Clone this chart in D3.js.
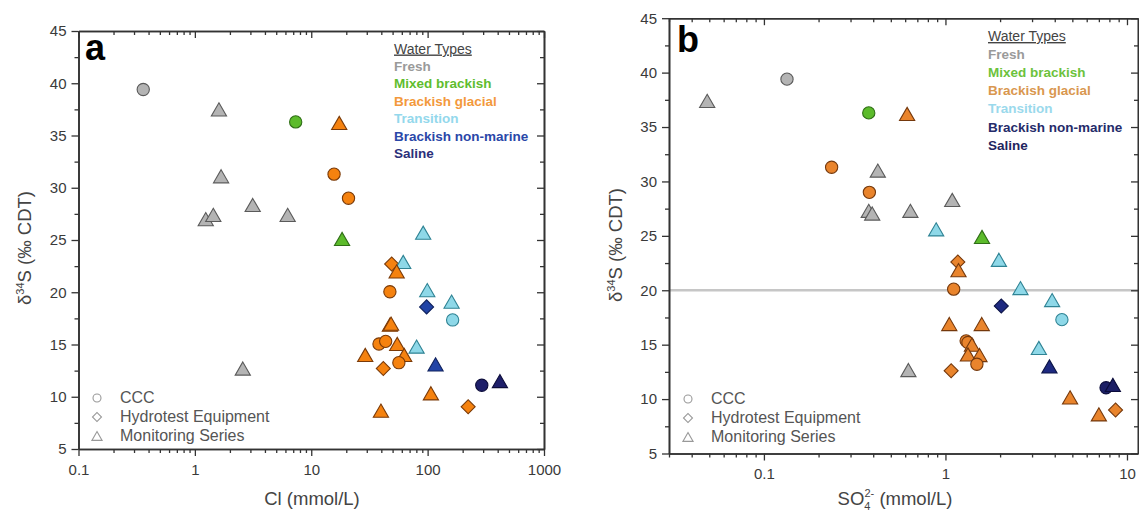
<!DOCTYPE html>
<html><head><meta charset="utf-8">
<script src="https://cdn.jsdelivr.net/npm/d3@7"></script>
<style>
body{margin:0;background:#fff;}
svg{display:block;font-family:"Liberation Sans",Arial,sans-serif;}
</style></head>
<body><svg id="chart" width="1139" height="511"></svg>
<script>
// ---------- data ----------
const waterTypes = ["Fresh","Mixed brackish","Brackish glacial","Transition","Brackish non-marine","Saline"];
const sources = ["CCC","Hydrotest Equipment","Monitoring Series"];
const yTicks = [5,10,15,20,25,30,35,40,45];
const aXTicks = [0.1,1,10,100,1000];
const bXTicks = [0.1,1,10];

// Panel a: Cl (mmol/L) vs d34S
const aCl   = [0.36,1.61,7.35,17.4,15.7,1.68,20.9,1.24,1.44,3.14,6.27,18.4,2.58,91.6,49.1,61.7,54.2,47.4,99.3,98,160.7,164,47.4,48.5,38.2,43.6,54.8,80.4,62.9,29.1,56.6,41.6,117,292,418,106.7,223,39.7];
const aD34S = [39.4,37.5,36.3,36.2,31.3,31.1,29.0,27.0,27.4,28.35,27.4,25.1,12.7,25.7,22.7,22.9,22.0,20.05,20.2,18.6,19.1,17.35,16.9,17.0,15.05,15.3,15.05,14.8,14.0,14.0,13.26,12.7,13.1,11.1,11.5,10.33,9.05,8.67];
const aType = [0,0,1,2,2,0,2,0,0,0,0,1,0,3,2,3,2,2,3,4,3,3,2,2,2,2,2,3,2,2,2,2,4,5,5,2,2,2];
const aSrc  = [0,2,0,2,0,2,0,2,2,2,2,2,2,2,1,2,2,0,2,1,2,0,2,2,0,0,2,2,2,2,0,1,2,0,2,2,1,2];

// Panel b: SO4 (mmol/L) vs d34S
const bSO4  = [0.0487,0.134,0.378,0.236,0.424,0.381,0.378,0.395,0.615,0.641,1.09,0.889,1.59,1.97,1.17,1.18,1.11,2.59,3.87,2.03,4.38,1.05,1.585,1.30,1.33,1.40,1.33,1.54,1.49,0.625,1.075,3.27,3.74,7.67,8.36,4.86,7.0,8.65];
const bD34S = [37.4,39.4,36.3,31.3,31.0,29.0,27.3,27.05,36.2,27.3,28.3,25.6,24.9,22.8,22.6,21.85,20.1,20.2,19.1,18.55,17.3,16.9,16.9,15.35,15.2,15.0,14.1,14.05,13.2,12.67,12.6,14.7,13.0,11.04,11.3,10.16,8.6,9.0];
const bType = [0,0,1,2,0,2,0,0,2,0,0,3,1,3,2,2,2,3,3,4,3,2,2,2,2,2,2,2,2,0,2,3,4,5,5,2,2,2];
const bSrc  = [2,0,0,0,2,0,2,2,2,2,2,2,2,2,1,2,0,2,2,1,0,2,2,0,0,2,2,2,0,2,1,2,2,0,2,2,2,1];

// ---------- styles ----------
const fillA = ["#b4b4b4","#5cbb2b","#f5820f","#8ed8e8","#2244a6","#1e1f6a"];
const strokeA = ["#5a5a5a","#2f6e16","#7a3a08","#2f8394","#10225e","#0c0c3a"];
const fillB = ["#b4b4b4","#5cbb2b","#e9842c","#8ed8e8","#1e2a80","#1c1f66"];
const strokeB = ["#5a5a5a","#2f6e16","#74380c","#2f8394","#0c1446","#0a0b3a"];
const legA = ["#9a9a9a","#5fbd2e","#f3993c","#93d8ec","#2a47a8","#2b307a"];
const legB = ["#9a9a9a","#6cc23c","#d9974f","#9ad9ec","#252b6a","#1f2560"];

// equilateral triangle centred on its bounding box
const boxTriangle = {
  draw(ctx,size){
    const s = Math.sqrt(4*size/Math.sqrt(3)), h = s*Math.sqrt(3)/2;
    ctx.moveTo(0,-h/2); ctx.lineTo(s/2,h/2); ctx.lineTo(-s/2,h/2); ctx.closePath();
  }
};

const svg = d3.select("#chart");
const shapeGen = [
  d3.symbol().type(d3.symbolCircle).size(118),
  d3.symbol().type(d3.symbolSquare).size(98),
  d3.symbol().type(boxTriangle).size(100)
];
const shapeRot = [0,45,0];

function logMinors(domain){
  const out=[];
  for(let e=Math.floor(Math.log10(domain[0]));e<=Math.ceil(Math.log10(domain[1]));e++){
    for(let m=2;m<=9;m++){const v=m*Math.pow(10,e); if(v>=domain[0]*0.999 && v<=domain[1]*1.001) out.push(v);}
  }
  return out;
}

function panel(cfg){
  const g = svg.append("g");
  const x = d3.scaleLog().domain(cfg.xDomain).range([cfg.left,cfg.right]);
  const y = d3.scaleLinear().domain([5,45]).range([cfg.bottom,cfg.top]);
  const yMinor = d3.range(7.5,45,5);
  const xMinor = logMinors(cfg.xDomain);
  const fmt = d => String(d);

  if(cfg.refLine!==undefined){
    g.append("line").attr("x1",cfg.left).attr("x2",cfg.right)
      .attr("y1",y(cfg.refLine)).attr("y2",y(cfg.refLine))
      .attr("stroke","#c6c6c6").attr("stroke-width",2.5);
  }

  function styleAxis(sel){
    sel.selectAll("path").attr("stroke","#333").attr("stroke-width",1.6);
    sel.selectAll("line").attr("stroke","#333").attr("stroke-width",1.3);
    sel.selectAll("text").attr("fill","#3a3a3a").style("font-size","15px").style("font-family","'Liberation Sans',Arial,sans-serif");
  }
  g.append("g").attr("transform",`translate(0,${cfg.bottom})`)
    .call(d3.axisBottom(x).tickValues(cfg.xTicks).tickFormat(fmt).tickSize(7).tickSizeOuter(0).tickPadding(8)).call(styleAxis);
  g.append("g").attr("transform",`translate(0,${cfg.bottom})`)
    .call(d3.axisBottom(x).tickValues(xMinor).tickFormat("").tickSize(4).tickSizeOuter(0)).call(styleAxis);
  g.append("g").attr("transform",`translate(0,${cfg.top})`)
    .call(d3.axisTop(x).tickValues(cfg.xTicks).tickFormat("").tickSize(-7).tickSizeOuter(0)).call(styleAxis);
  g.append("g").attr("transform",`translate(0,${cfg.top})`)
    .call(d3.axisTop(x).tickValues(xMinor).tickFormat("").tickSize(-4).tickSizeOuter(0)).call(styleAxis);
  g.append("g").attr("transform",`translate(${cfg.left},0)`)
    .call(d3.axisLeft(y).tickValues(yTicks).tickFormat(fmt).tickSize(7).tickSizeOuter(0).tickPadding(5)).call(styleAxis);
  g.append("g").attr("transform",`translate(${cfg.left},0)`)
    .call(d3.axisLeft(y).tickValues(yMinor).tickFormat("").tickSize(4).tickSizeOuter(0)).call(styleAxis);
  g.append("g").attr("transform",`translate(${cfg.right},0)`)
    .call(d3.axisRight(y).tickValues(yTicks).tickFormat("").tickSize(-7).tickSizeOuter(0)).call(styleAxis);
  g.append("g").attr("transform",`translate(${cfg.right},0)`)
    .call(d3.axisRight(y).tickValues(yMinor).tickFormat("").tickSize(-4).tickSizeOuter(0)).call(styleAxis);

  const data = cfg.xs.map((v,i)=>({x:v,y:cfg.ys[i],t:cfg.types[i],s:cfg.srcs[i]}));
  g.append("g").selectAll("path").data(data).join("path")
    .attr("d",d=>shapeGen[d.s]())
    .attr("transform",d=>`translate(${x(d.x)},${y(d.y)}) rotate(${shapeRot[d.s]})`)
    .attr("fill",d=>cfg.fill[d.t]).attr("stroke",d=>cfg.stroke[d.t]).attr("stroke-width",1.1);

  g.append("text").attr("x",cfg.letterX).attr("y",cfg.letterY).text(cfg.letter)
    .style("font-size","36px").style("font-weight","bold").attr("fill","#000");

  const lg = g.append("g");
  lg.append("text").attr("x",cfg.legX).attr("y",cfg.legY).text("Water Types")
    .attr("fill","#444").style("font-size","14px").style("text-decoration","underline");
  lg.selectAll("text.wt").data(waterTypes).join("text").attr("class","wt")
    .attr("x",cfg.legX).attr("y",(d,i)=>cfg.legY+cfg.legDy*(i+1)).text(d=>d)
    .attr("fill",(d,i)=>cfg.legCol[i]).style("font-size","13.5px").style("font-weight","bold");

  const sg = g.append("g");
  sources.forEach((s,i)=>{
    const yy = cfg.srcY + i*19;
    const small = [d3.symbol().type(d3.symbolCircle).size(50),d3.symbol().type(d3.symbolSquare).size(40),d3.symbol().type(boxTriangle).size(45)][i];
    sg.append("path").attr("d",small()).attr("transform",`translate(${cfg.srcSymX},${yy-5}) rotate(${shapeRot[i]})`)
      .attr("fill","none").attr("stroke","#999").attr("stroke-width",1.1);
    sg.append("text").attr("x",cfg.srcTextX).attr("y",yy).text(s).attr("fill","#555").style("font-size","16px");
  });

  const yl = g.append("text").attr("transform",`translate(${cfg.yLabX},${cfg.yLabY}) rotate(-90)`)
    .attr("text-anchor","middle").attr("fill","#444").style("font-size","18.5px");
  yl.append("tspan").text("δ");
  yl.append("tspan").text("34").attr("dy",-7).style("font-size","11px");
  yl.append("tspan").text("S (‰ CDT)").attr("dy",7);

  const xl = g.append("text").attr("x",cfg.xLabX).attr("y",cfg.xLabY).attr("text-anchor","middle")
    .attr("fill","#444").style("font-size","18.5px");
  cfg.xLabel(xl);
}

panel({
  xDomain:[0.1,1000], left:78.5, right:544, top:31, bottom:449,
  xTicks:aXTicks, xs:aCl, ys:aD34S, types:aType, srcs:aSrc,
  fill:fillA, stroke:strokeA, legCol:legA,
  letter:"a", letterX:85, letterY:60,
  legX:394, legY:53.5, legDy:17.4,
  srcY:403, srcSymX:97, srcTextX:120,
  yLabX:31, yLabY:248, xLabX:312, xLabY:505,
  xLabel: t => t.text("Cl (mmol/L)")
});

panel({
  xDomain:[0.03,11.5], left:669, right:1138, top:18.2, bottom:453.5,
  xTicks:bXTicks, xs:bSO4, ys:bD34S, types:bType, srcs:bSrc,
  fill:fillB, stroke:strokeB, legCol:legB, refLine:20,
  letter:"b", letterX:677, letterY:52,
  legX:988, legY:41, legDy:18.1,
  srcY:404, srcSymX:688, srcTextX:711,
  yLabX:622, yLabY:245, xLabX:895, xLabY:505,
  xLabel: t => {
    t.append("tspan").text("SO");
    t.append("tspan").text("4").attr("dy",5).style("font-size","11px");
    t.append("tspan").text("2-").attr("dx",-6).attr("dy",-13).style("font-size","11px");
    t.append("tspan").text(" (mmol/L)").attr("dy",8);
  }
});
</script></body></html>
